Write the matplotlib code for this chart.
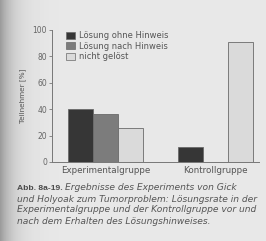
import numpy as np
import matplotlib
matplotlib.use('Agg')
import matplotlib.pyplot as plt
from matplotlib.patches import Patch

groups = ['Experimentalgruppe', 'Kontrollgruppe']
ohne_hinweis = [40, 11]
nach_hinweis = [36, np.nan]
nicht_geloest = [26, 91]
series_labels = ['Lösung ohne Hinweis', 'Lösung nach Hinweis', 'nicht gelöst']
yticks = [0, 20, 40, 60, 80, 100]

caption = ['und Holyoak zum Tumorproblem: Lösungsrate in der',
           'Experimentalgruppe und der Kontrollgruppe vor und',
           'nach dem Erhalten des Lösungshinweises.']

plt.rcParams['font.family'] = ['DejaVu Sans']

fig = plt.figure(figsize=(2.66, 2.41), dpi=100)

# paper background with scan shadow on the left
bg = fig.add_axes([0, 0, 1, 1], zorder=-1)
xs = np.linspace(0, 1, 266)
shade = 0.91 - 0.30 * np.exp(-xs / 0.05)
img = np.tile(shade, (241, 1))
bg.imshow(img, cmap='gray', vmin=0, vmax=1, aspect='auto', extent=[0, 1, 0, 1])
bg.axis('off')

ax = fig.add_axes([0.195, 0.328, 0.78, 0.548])
ax.set_facecolor('none')

colors = ['#363636', '#7c7c7c', '#dadada']
w = 1.0
centers = np.array([0, 4.4])
for i, (vals, c) in enumerate(zip([ohne_hinweis, nach_hinweis, nicht_geloest], colors)):
    ax.bar(centers + (i - 1) * w, vals, width=w, color=c, edgecolor='#6a6a6a', linewidth=0.6)

ax.set_ylim(0, 100)
ax.set_xlim(-2.16, 6.16)
ax.set_yticks(yticks)
ax.set_yticklabels([str(t) for t in yticks], fontsize=5.5, color='#666666')
ax.set_xticks(centers)
ax.set_xticklabels(groups, fontsize=6.3, color='#555555')
ax.tick_params(axis='x', length=0, pad=3)
ax.tick_params(axis='y', length=2.5, width=0.6, color='#777777', pad=1)
ax.set_ylabel('Teilnehmer [%]', fontsize=5.2, color='#555555', labelpad=5)
for s in ['top', 'right']:
    ax.spines[s].set_visible(False)
for s in ['left', 'bottom']:
    ax.spines[s].set_color('#777777')
    ax.spines[s].set_linewidth(0.7)

handles = [Patch(facecolor=c, edgecolor='#6a6a6a', linewidth=0.5) for c in colors]
ax.legend(handles, series_labels, loc='upper left', bbox_to_anchor=(0.03, 1.045),
          fontsize=6.0, frameon=False, handlelength=1.1, handleheight=0.9,
          handletextpad=0.5, labelspacing=0.15, labelcolor='#555555')

# caption
cy = [1 - 188 / 241, 1 - 199 / 241, 1 - 210 / 241, 1 - 221 / 241]
fig.text(0.064, cy[0], 'Abb. 8a-19.', fontsize=6.1, fontweight='bold',
         family='Liberation Sans', color='#4a4a4a', va='center')
fig.text(0.245, cy[0], 'Ergebnisse des Experiments von Gick', fontsize=6.6,
         style='italic', color='#555555', va='center')
for k, line in enumerate(caption):
    fig.text(0.064, cy[k + 1], line, fontsize=6.6, style='italic', color='#555555', va='center')

fig.savefig('out.png', dpi=100)
